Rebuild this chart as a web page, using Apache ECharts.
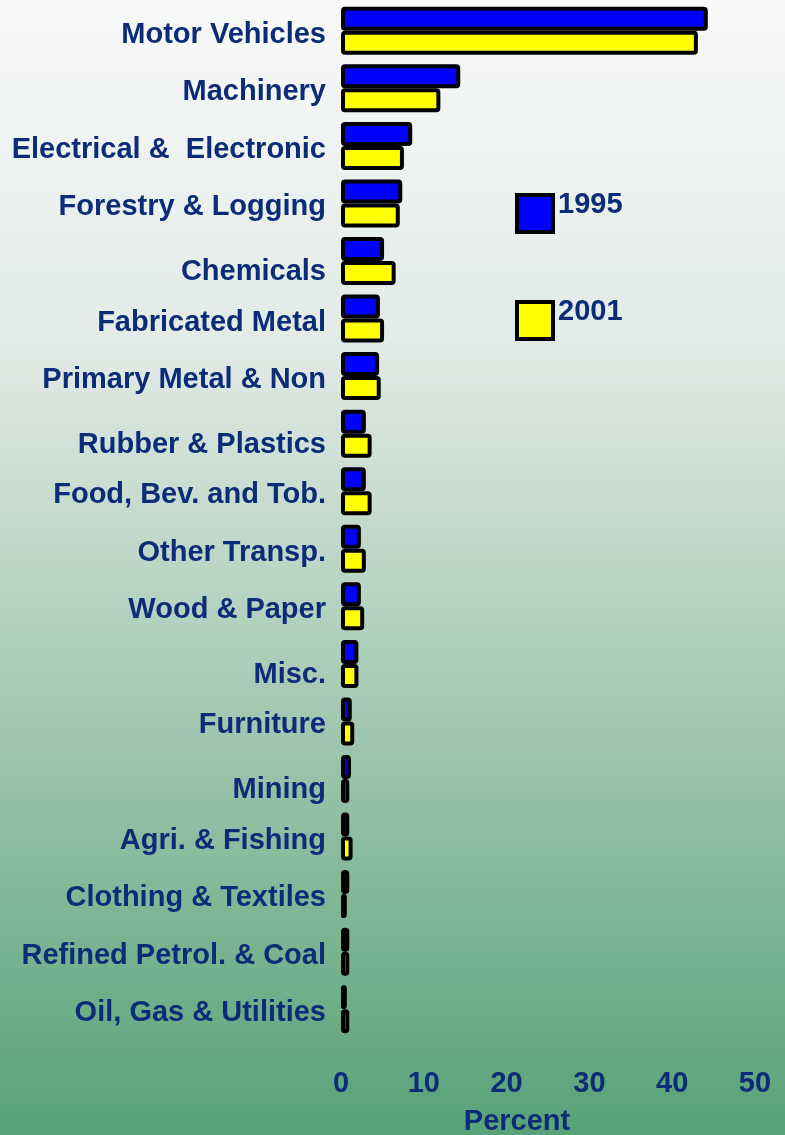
<!DOCTYPE html>
<html><head><meta charset="utf-8">
<script src="https://cdn.jsdelivr.net/npm/echarts@6/dist/echarts.min.js"></script>
<style>html,body{margin:0;padding:0;}#c{width:785px;height:1135px;}</style>
</head><body><div id="c"></div>
<script>
const categories = ["Motor Vehicles","Machinery","Electrical &  Electronic","Forestry & Logging","Chemicals","Fabricated Metal","Primary Metal & Non","Rubber & Plastics","Food, Bev. and Tob.","Other Transp.","Wood & Paper","Misc.","Furniture","Mining","Agri. & Fishing","Clothing & Textiles","Refined Petrol. & Coal","Oil, Gas & Utilities"];
const values1995 = [44.3,14.4,8.6,7.4,5.2,4.7,4.6,3.0,3.0,2.4,2.4,2.1,1.3,1.2,1.0,1.0,1.0,0.7];
const values2001 = [43.1,12.0,7.6,7.1,6.6,5.2,4.8,3.7,3.7,3.0,2.8,2.1,1.6,1.0,1.4,0.7,1.0,1.0];
const xTicks = [0,10,20,30,40,50];
const seriesNames = ["1995","2001"];
const lowerLabels = ["Chemicals","Rubber & Plastics","Misc.","Mining"];

const navy = '#0d2c78';
const font = 'Liberation Sans, Arial, sans-serif';
const lblBase = {color:navy,fontSize:29,fontWeight:'bold',fontFamily:font};
const chart = echarts.init(document.getElementById('c'));
chart.setOption({
  backgroundColor: {type:'linear',x:0,y:0,x2:0,y2:1,colorStops:[{offset:0,color:'#f8f9f9'},{offset:0.3,color:'#e2ebe6'},{offset:0.6,color:'#a9cbb6'},{offset:1,color:'#57a277'}]},
  animation:false,
  grid:{left:341,right:30,top:2,height:1036,containLabel:false,outerBoundsMode:'none'},
  legend:{orient:'vertical',left:515,top:190,padding:0,itemWidth:36,itemHeight:37,itemGap:63,
    icon:'rect',
    data:seriesNames,
    itemStyle:{borderColor:'#000',borderWidth:4},
    formatter:'{a|{name}}',
    textStyle:Object.assign({},lblBase,{rich:{a:Object.assign({},lblBase,{padding:[0,0,18,0]})}}),
    selectedMode:false},
  xAxis:{type:'value',min:xTicks[0],max:xTicks[xTicks.length-1],interval:10,
    axisLine:{show:false},axisTick:{show:false},splitLine:{show:false},
    axisLabel:Object.assign({},lblBase,{margin:31}),
    name:'Percent',nameLocation:'middle',nameGap:69,
    nameTextStyle:Object.assign({},lblBase,{padding:[0,62,0,0]})},
  yAxis:{type:'category',data:categories,inverse:true,
    axisLine:{show:false},axisTick:{show:false},
    axisLabel:Object.assign({},lblBase,{margin:15,
      formatter:function(v){return lowerLabels.indexOf(v)>=0?'{low|'+v+'}':'{n|'+v+'}';},
      rich:{n:Object.assign({},lblBase,{padding:[8,0,0,0]}),low:Object.assign({},lblBase,{padding:[22,0,0,0]})}})},
  series:[
    {name:seriesNames[0],type:'bar',data:values1995,barWidth:24,barGap:'0%',
     itemStyle:{color:'#0000ff',borderColor:'#000',borderWidth:4,borderRadius:2}},
    {name:seriesNames[1],type:'bar',data:values2001,barWidth:24,barGap:'0%',
     itemStyle:{color:'#ffff00',borderColor:'#000',borderWidth:4,borderRadius:2}}
  ]
});
</script></body></html>
